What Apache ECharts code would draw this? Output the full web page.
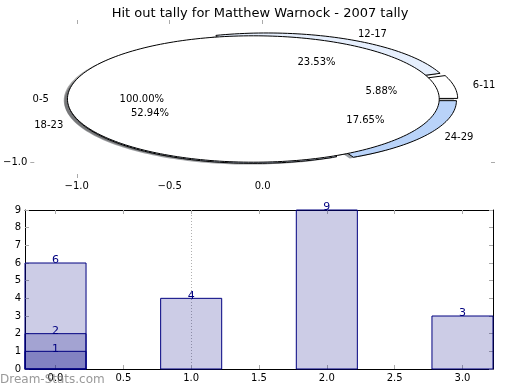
<!DOCTYPE html>
<html><head><meta charset="utf-8">
<script src="https://cdn.jsdelivr.net/npm/echarts@6/dist/echarts.min.js"></script>
<style>html,body{margin:0;padding:0;background:#fff}#c{width:520px;height:390px}</style>
</head><body><div id="c"></div>
<script>
const titleText = 'Hit out tally for Matthew Warnock - 2007 tally';
const outerLabels = ['0-5'];
const outerValues = [1];
const outerColors = ['#ffffff'];
const innerLabels = ['6-11', '12-17', '18-23', '24-29'];
const innerValues = [1, 4, 9, 3];
const innerColors = ['#ffffff', '#e6effd', '#d6e3f8', '#b9d3f9'];
const pieXTicks = [-1.0, -0.5, 0.0];
const pieYTicks = [-1.0];
const barX = [0, 0, 0, 1, 2, 3];
const barValues = [6, 2, 1, 4, 9, 3];
const barXTicks = [0, 0.5, 1.0, 1.5, 2.0, 2.5, 3.0];
const barYTicks = [0, 1, 2, 3, 4, 5, 6, 7, 8, 9];
const gridLineX = [1.0];
const watermark = 'Dream-Stats.com';

const EXPLODE = 0.05, BAR_W = 0.45, FONT = 'DejaVu Sans';
// drawn in this order: inner pie first, then outer (single slice) pie on top
const pies = [
  { labels: innerLabels, values: innerValues, colors: innerColors },
  { labels: outerLabels, values: outerValues, colors: outerColors }
];

function sliceGeom(p, i) {
  const vals = pies[p].values;
  const total = vals.reduce((a, b) => a + b, 0);
  let before = 0;
  for (let k = 0; k < i; k++) before += vals[k];
  const a0 = before / total * 360, a1 = (before + vals[i]) / total * 360;
  const mid = (a0 + a1) / 2 * Math.PI / 180;
  return {
    a0: a0 * Math.PI / 180, a1: a1 * Math.PI / 180, mid,
    cx: EXPLODE * Math.cos(mid), cy: EXPLODE * Math.sin(mid),
    full: Math.abs(a1 - a0 - 360) < 1e-9,
    pct: (vals[i] / total * 100).toFixed(2) + '%'
  };
}
function wedgePts(api, g, ox, oy) {
  const pts = [];
  if (!g.full) pts.push(api.coord([g.cx + ox, g.cy + oy]));
  const n = Math.max(6, Math.ceil((g.a1 - g.a0) * 180 / Math.PI / 1.5));
  for (let k = 0; k <= n; k++) {
    const t = g.a0 + (g.a1 - g.a0) * k / n;
    pts.push(api.coord([g.cx + ox + Math.cos(t), g.cy + oy + Math.sin(t)]));
  }
  return pts;
}
function hexToRgb(h) { return [1, 3, 5].map(k => parseInt(h.substr(k, 2), 16)); }

const shadowData = [];
pies.forEach((pie, p) => pie.values.forEach((v, i) => shadowData.push([p, i])));

const minusFmt = v => v.toFixed(1).replace('-', '\u2212');
const tickStyle = { color: '#aaaaaa', width: 1 };
const labelStyle = { color: '#000', fontSize: 10, fontFamily: FONT };
const hiddenLine = { show: true, onZero: false, lineStyle: { color: 'rgba(0,0,0,0)', width: 0 } };
const blackLine = { show: true, onZero: false, lineStyle: { color: '#000', width: 1 } };

const chart = echarts.init(document.getElementById('c'), null, { renderer: 'canvas' });
chart.setOption({
  animation: false,
  backgroundColor: '#fff',
  title: { text: titleText, left: 'center', top: 2,
    textStyle: { fontSize: 13, fontWeight: 'normal', color: '#000', fontFamily: FONT } },
  grid: [
    { left: 25, width: 470, top: 20, height: 158 },
    { left: 25, width: 468, top: 210, height: 159 }
  ],
  xAxis: [
    { gridIndex: 0, type: 'value', min: -1.25, max: 1.25, position: 'bottom',
      axisLine: hiddenLine, splitLine: { show: false },
      axisTick: { show: true, inside: true, length: 4, customValues: [-1.0], lineStyle: tickStyle },
      axisLabel: Object.assign({ customValues: pieXTicks, formatter: minusFmt, margin: 3 }, labelStyle) },
    { gridIndex: 0, type: 'value', min: -1.25, max: 1.25, position: 'top',
      axisLine: hiddenLine, splitLine: { show: false },
      axisTick: { show: true, inside: true, length: 4, customValues: pieXTicks, lineStyle: tickStyle },
      axisLabel: { show: false, customValues: pieXTicks } },
    { gridIndex: 1, type: 'value', min: -0.225, max: 3.225, position: 'bottom',
      axisLine: blackLine, splitLine: { show: false },
      axisTick: { show: true, inside: true, length: 4, customValues: barXTicks, lineStyle: tickStyle },
      axisLabel: Object.assign({ customValues: barXTicks, formatter: minusFmt, margin: 4 }, labelStyle) },
    { gridIndex: 1, type: 'value', min: -0.225, max: 3.225, position: 'top',
      axisLine: blackLine, splitLine: { show: false },
      axisTick: { show: true, inside: true, length: 4, customValues: barXTicks, lineStyle: tickStyle },
      axisLabel: { show: false, customValues: barXTicks } }
  ],
  yAxis: [
    { gridIndex: 0, type: 'value', min: -1.25, max: 1.25, position: 'left',
      axisLine: hiddenLine, splitLine: { show: false },
      axisTick: { show: true, inside: true, length: 4, customValues: pieYTicks, lineStyle: tickStyle },
      axisLabel: Object.assign({ customValues: pieYTicks, formatter: minusFmt, margin: 3 }, labelStyle) },
    { gridIndex: 0, type: 'value', min: -1.25, max: 1.25, position: 'right',
      axisLine: hiddenLine, splitLine: { show: false },
      axisTick: { show: true, inside: true, length: 4, customValues: pieYTicks, lineStyle: tickStyle },
      axisLabel: { show: false, customValues: pieYTicks } },
    { gridIndex: 1, type: 'value', min: 0, max: 9, position: 'left',
      axisLine: blackLine, splitLine: { show: false },
      axisTick: { show: true, inside: true, length: 4, customValues: barYTicks, lineStyle: tickStyle },
      axisLabel: Object.assign({ customValues: barYTicks, margin: 4 }, labelStyle) },
    { gridIndex: 1, type: 'value', min: 0, max: 9, position: 'right',
      axisLine: blackLine, splitLine: { show: false },
      axisTick: { show: true, inside: true, length: 4, customValues: barYTicks, lineStyle: tickStyle },
      axisLabel: { show: false, customValues: barYTicks } }
  ],
  graphic: [
    { type: 'text', left: 0, top: 374, z: 100,
      style: { text: watermark, fill: 'rgba(128,128,128,0.8)', font: '12px "DejaVu Sans"' } }
  ],
  series: [
    // pie shadows
    { type: 'custom', xAxisIndex: 0, yAxisIndex: 0, z: 1, clip: false,
      data: shadowData,
      renderItem: (params, api) => {
        const p = api.value(0), i = api.value(1);
        const g = sliceGeom(p, i);
        const c = hexToRgb(pies[p].colors[i]).map(x => Math.round(x * 0.3));
        return { type: 'polygon', shape: { points: wedgePts(api, g, -0.02, -0.02) },
          style: { fill: `rgba(${c[0]},${c[1]},${c[2]},0.5)`, stroke: null } };
      } },
    // wedges of both pies
    ...pies.map((pie, p) => ({
      type: 'custom', xAxisIndex: 0, yAxisIndex: 0, z: 2 + p, clip: false,
      data: pie.values.map((v, i) => [i, v]),
      renderItem: (params, api) => {
        const i = api.value(0);
        const g = sliceGeom(p, i);
        return { type: 'polygon', shape: { points: wedgePts(api, g, 0, 0) },
          style: { fill: pie.colors[i], stroke: '#000', lineWidth: 1, lineJoin: 'miter' } };
      } })),
    // pie texts
    ...pies.map((pie, p) => ({
      type: 'custom', xAxisIndex: 0, yAxisIndex: 0, z: 5, clip: false,
      data: pie.values.map((v, i) => [i, v]),
      renderItem: (params, api) => {
        const i = api.value(0);
        const g = sliceGeom(p, i);
        const lx = g.cx + 1.1 * Math.cos(g.mid), ly = g.cy + 1.1 * Math.sin(g.mid);
        const px = g.cx + 0.6 * Math.cos(g.mid), py = g.cy + 0.6 * Math.sin(g.mid);
        const lp = api.coord([lx, ly]), pp = api.coord([px, py]);
        return { type: 'group', children: [
          { type: 'text', x: lp[0], y: lp[1], style: { text: pie.labels[i], fill: '#000',
            fontSize: 10, fontFamily: FONT, align: lx > 0 ? 'left' : 'right', verticalAlign: 'middle' } },
          { type: 'text', x: pp[0], y: pp[1], style: { text: g.pct, fill: '#000',
            fontSize: 10, fontFamily: FONT, align: 'center', verticalAlign: 'middle' } }
        ] };
      } })),
    // dotted grid line
    { type: 'custom', xAxisIndex: 2, yAxisIndex: 2, z: 1, clip: false,
      data: gridLineX.map(x => [x]),
      renderItem: (params, api) => {
        const a = api.coord([api.value(0), barYTicks[0]]);
        const b = api.coord([api.value(0), barYTicks[barYTicks.length - 1]]);
        return { type: 'line', shape: { x1: Math.round(a[0]) + 0.5, y1: a[1], x2: Math.round(b[0]) + 0.5, y2: b[1] },
          style: { stroke: '#b0b0b0', lineWidth: 1, lineDash: [1, 2] } };
      } },
    // bars
    { type: 'custom', xAxisIndex: 2, yAxisIndex: 2, z: 3, clip: false,
      data: barX.map((x, i) => [x, barValues[i]]),
      renderItem: (params, api) => {
        const x = api.value(0), y = api.value(1);
        const tl = api.coord([x - BAR_W / 2, y]);
        const br = api.coord([x + BAR_W / 2, 0]);
        const cx = api.coord([x, y]);
        return { type: 'group', children: [
          { type: 'rect', shape: { x: tl[0], y: tl[1], width: br[0] - tl[0], height: br[1] - tl[1] },
            style: { fill: 'rgba(0,0,128,0.2)', stroke: '#000080', lineWidth: 1 } },
          { type: 'text', x: cx[0], y: cx[1] + 3, z2: 10,
            style: { text: String(y), fill: '#000080', fontSize: 11, fontFamily: FONT,
              align: 'center', verticalAlign: 'bottom' } }
        ] };
      } }
  ]
});
</script>
</body></html>
